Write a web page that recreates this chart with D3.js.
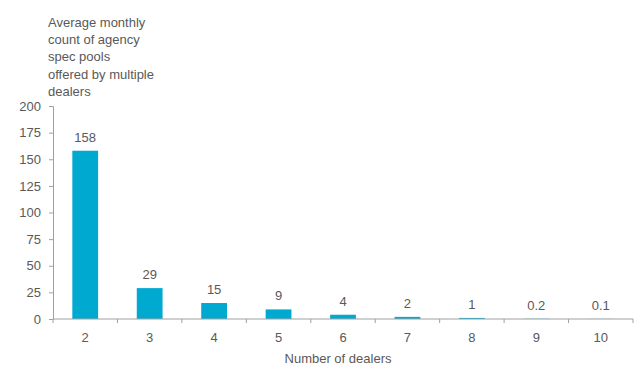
<!DOCTYPE html>
<html><head><meta charset="utf-8">
<script src="https://cdn.jsdelivr.net/npm/d3@7"></script>
<style>body{margin:0;background:#fff;} text{font-family:"Liberation Sans",Arial,sans-serif;}</style>
</head><body>
<svg id="c" width="638" height="367"></svg>
<script>
const categories = ["2","3","4","5","6","7","8","9","10"];
const values = [158, 29, 15, 9, 4, 2, 1, 0.2, 0.1];
const valueLabels = ["158","29","15","9","4","2","1","0.2","0.1"];
const yTicks = [0,25,50,75,100,125,150,175,200];
const titleLines = ["Average monthly","count of agency","spec pools","offered by multiple","dealers"];
const xTitle = "Number of dealers";

const svg = d3.select("#c");
const textColor = "#595959", axisColor = "#a0a0a0", barColor = "#00A9D0";
const x = d3.scaleBand().domain(categories).range([53, 633]).paddingInner(0.6).paddingOuter(0.3);
const y = d3.scaleLinear().domain([0, 200]).range([319, 106]);

// bars
svg.selectAll("rect.bar").data(values).enter().append("rect")
  .attr("x", (d,i)=>x(categories[i])).attr("width", x.bandwidth())
  .attr("y", d=>y(d)).attr("height", d=>y(0)-y(d)).attr("fill", barColor);

// value labels
svg.selectAll("text.vl").data(values).enter().append("text")
  .attr("x", (d,i)=>x(categories[i])+x.bandwidth()/2).attr("y", d=>y(d)-9)
  .attr("text-anchor","middle").attr("font-size",13).attr("fill",textColor)
  .text((d,i)=>valueLabels[i]);

// y axis
const yAxis = svg.append("g").attr("transform","translate(53,0)")
  .call(d3.axisLeft(y).tickValues(yTicks).tickSize(4).tickPadding(8));
// x axis
const xPos = d3.scaleLinear().domain([0, categories.length]).range([53, 633]);
const xAxis = svg.append("g").attr("transform","translate(0,319)")
  .call(d3.axisBottom(x).tickSize(0).tickPadding(14));
xAxis.append("g").selectAll("line").data(d3.range(categories.length+1)).enter().append("line")
  .attr("x1", d=>xPos(d)).attr("x2", d=>xPos(d)).attr("y1",0).attr("y2",4);
[yAxis, xAxis].forEach(g=>{
  g.selectAll("path.domain").attr("stroke", axisColor);
  g.selectAll("line").attr("stroke", axisColor);
  g.selectAll("text").attr("fill", textColor).attr("font-size",13).attr("font-family","Liberation Sans, Arial, sans-serif");
});
xAxis.select("path.domain").attr("d","M53,0H633");

// titles
svg.append("text").attr("x",48).attr("y",27).attr("font-size",13).attr("fill",textColor)
  .selectAll("tspan").data(titleLines).enter().append("tspan")
  .attr("x",48).attr("dy",(d,i)=>i?17.2:0).text(d=>d);
svg.append("text").attr("x",338).attr("y",363).attr("text-anchor","middle")
  .attr("font-size",13).attr("fill",textColor).text(xTitle);
</script>
</body></html>
